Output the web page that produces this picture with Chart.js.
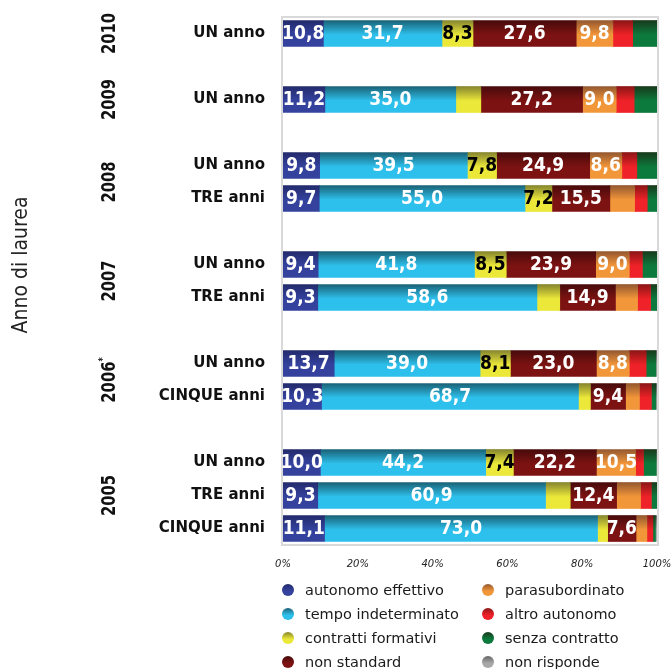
<!DOCTYPE html>
<html>
<head>
<meta charset="utf-8">
<script src="https://cdn.jsdelivr.net/npm/chart.js@4"></script>
<style>
  html, body { margin: 0; padding: 0; background: #ffffff; }
  #c { display: block; }
</style>
</head>
<body>
<canvas id="c" width="672" height="669"></canvas>
<script>
// ---- data ----
const categories = ["UN anno", "", "UN anno", "", "UN anno", "TRE anni", "", "UN anno", "TRE anni", "", "UN anno", "CINQUE anni", "", "UN anno", "TRE anni", "CINQUE anni"];
const years = ["2010", "2009", "2008", "2007", "2006", "2005"];
const yearMarks = ["", "", "", "", "*", ""];
const yearRows = [[0], [2], [4, 5], [7, 8], [10, 11], [13, 14, 15]];
const axisTitle = "Anno di laurea";
const xTickValues = [0, 20, 40, 60, 80, 100];

const seriesNames = ["autonomo effettivo", "tempo indeterminato", "contratti formativi", "non standard", "parasubordinato", "altro autonomo", "senza contratto", "non risponde"];

const autonomoEffettivo  = [10.8, null, 11.2, null, 9.8, 9.7, null, 9.4, 9.3, null, 13.7, 10.3, null, 10.0, 9.3, 11.1];
const tempoIndeterminato = [31.7, null, 35.0, null, 39.5, 55.0, null, 41.8, 58.6, null, 39.0, 68.7, null, 44.2, 60.9, 73.0];
const contrattiFormativi = [8.3, null, 6.7, null, 7.8, 7.2, null, 8.5, 6.1, null, 8.1, 3.2, null, 7.4, 6.6, 2.7];
const nonStandard        = [27.6, null, 27.2, null, 24.9, 15.5, null, 23.9, 14.9, null, 23.0, 9.4, null, 22.2, 12.4, 7.6];
const parasubordinato    = [9.8, null, 9.0, null, 8.6, 6.6, null, 9.0, 5.9, null, 8.8, 3.7, null, 10.5, 6.4, 2.9];
const altroAutonomo      = [5.3, null, 4.8, null, 4.0, 3.4, null, 3.5, 3.5, null, 4.5, 3.2, null, 2.1, 2.9, 1.6];
const senzaContratto     = [6.5, null, 6.1, null, 5.4, 2.6, null, 3.9, 1.7, null, 2.6, 1.2, null, 3.4, 1.5, 0.7];
const nonRisponde        = [0, null, 0, null, 0, 0, null, 0, 0, null, 0.3, 0.3, null, 0.2, 0, 0.3];

const seriesValues = [autonomoEffettivo, tempoIndeterminato, contrattiFormativi, nonStandard, parasubordinato, altroAutonomo, senzaContratto, nonRisponde];

// ---- styles ----
const darkColors  = ["#232a6c", "#1a6276", "#86862e", "#480b0b", "#94582f", "#8c1616", "#183a1c", "#666666"];
const lightColors = ["#34429e", "#2ec0ec", "#ebe83a", "#7c1212", "#f2963a", "#ee2228", "#0c7a3c", "#a8a8a8"];
const labelColors = ["#ffffff", "#ffffff", "#000000", "#ffffff", "#ffffff", "#ffffff", "#ffffff", "#ffffff"];
const BAR_H = 26;
const LABEL_MIN = 7;

function barGradient(i) {
  return function (c) {
    const chart = c.chart;
    const ys = chart.scales && chart.scales.y;
    if (!ys || c.dataIndex === undefined || !chart.chartArea) return lightColors[i];
    const yc = ys.getPixelForValue(c.dataIndex);
    if (!isFinite(yc)) return lightColors[i];
    const g = chart.ctx.createLinearGradient(0, yc - BAR_H / 2, 0, yc + BAR_H / 2);
    g.addColorStop(0, darkColors[i]);
    g.addColorStop(0.55, lightColors[i]);
    g.addColorStop(1, lightColors[i]);
    return g;
  };
}

const datasets = seriesNames.map((name, i) => ({
  label: name,
  data: seriesValues[i],
  backgroundColor: barGradient(i),
  borderWidth: 0,
  barThickness: BAR_H
}));

const fmt = v => v.toFixed(1).replace('.', ',');

const framePlugin = {
  id: 'frame',
  beforeDatasetsDraw(chart) {
    const a = chart.chartArea, ctx = chart.ctx;
    ctx.save();
    ctx.strokeStyle = '#d9d9d9';
    ctx.lineWidth = 2;
    ctx.strokeRect(a.left - 1, a.top, a.right - a.left + 2, a.bottom - a.top);
    ctx.restore();
  }
};

const labelsPlugin = {
  id: 'segLabels',
  afterDatasetsDraw(chart) {
    const ctx = chart.ctx;
    ctx.save();
    ctx.font = "bold 19px 'DejaVu Sans Condensed', 'DejaVu Sans'";
    ctx.textAlign = 'center';
    ctx.textBaseline = 'middle';
    chart.data.datasets.forEach((ds, i) => {
      const meta = chart.getDatasetMeta(i);
      meta.data.forEach((bar, j) => {
        const v = ds.data[j];
        if (v === null || v < LABEL_MIN) return;
        ctx.fillStyle = labelColors[i];
        ctx.fillText(fmt(v), (bar.x + bar.base) / 2, bar.y + 1);
      });
    });
    ctx.restore();
  }
};

const YEAR_FONT = "bold 20px 'DejaVu Sans Condensed', 'DejaVu Sans'";
const MARK_FONT = "bold 11px 'DejaVu Sans Condensed', 'DejaVu Sans'";
const YEAR_SQUEEZE = 0.82;

const sidePlugin = {
  id: 'side',
  afterDraw(chart) {
    const ctx = chart.ctx, ys = chart.scales.y;
    ctx.save();
    ctx.fillStyle = '#111111';
    // year labels
    years.forEach((yr, k) => {
      const rows = yearRows[k];
      const yc = rows.reduce((s, r) => s + ys.getPixelForValue(r), 0) / rows.length;
      ctx.save();
      ctx.translate(115, yc);
      ctx.rotate(-Math.PI / 2);
      ctx.scale(YEAR_SQUEEZE, 1);
      ctx.textBaseline = 'alphabetic';
      ctx.textAlign = 'left';
      ctx.font = YEAR_FONT;
      const w = ctx.measureText(yr).width;
      ctx.font = MARK_FONT;
      const wm = yearMarks[k] ? ctx.measureText(yearMarks[k]).width : 0;
      const x0 = -(w + wm) / 2;
      ctx.font = YEAR_FONT;
      ctx.fillText(yr, x0, 0);
      if (yearMarks[k]) {
        ctx.font = MARK_FONT;
        ctx.fillText(yearMarks[k], x0 + w, -9);
      }
      ctx.restore();
    });
    // axis title
    ctx.save();
    ctx.translate(27, 265);
    ctx.rotate(-Math.PI / 2);
    ctx.font = "21px 'DejaVu Sans Condensed', 'DejaVu Sans'";
    ctx.textAlign = 'center';
    ctx.textBaseline = 'alphabetic';
    ctx.fillStyle = '#222222';
    ctx.fillText(axisTitle, 0, 0);
    ctx.restore();

    // legend (two columns, column-major)
    const colX = [288, 488];
    const rowY = [590, 614, 638, 662];
    ctx.font = "14.5px 'DejaVu Sans'";
    ctx.textBaseline = 'middle';
    ctx.textAlign = 'left';
    seriesNames.forEach((name, i) => {
      const col = Math.floor(i / 4), row = i % 4;
      const cx = colX[col], cy = rowY[row];
      const g = ctx.createLinearGradient(0, cy - 6, 0, cy + 6);
      g.addColorStop(0, darkColors[i]);
      g.addColorStop(0.6, lightColors[i]);
      g.addColorStop(1, lightColors[i]);
      ctx.beginPath();
      ctx.arc(cx, cy, 6, 0, Math.PI * 2);
      ctx.fillStyle = g;
      ctx.fill();
      ctx.fillStyle = '#1a1a1a';
      ctx.fillText(name, cx + 17, cy + 1);
    });
    ctx.restore();
  }
};

new Chart(document.getElementById('c'), {
  type: 'bar',
  data: { labels: categories, datasets: datasets },
  plugins: [framePlugin, labelsPlugin, sidePlugin],
  options: {
    indexAxis: 'y',
    responsive: false,
    animation: false,
    devicePixelRatio: 1,
    layout: { padding: { top: 17, right: 15, left: 0, bottom: 0 } },
    plugins: { legend: { display: false }, tooltip: { enabled: false }, title: { display: false } },
    scales: {
      x: {
        stacked: true,
        min: 0,
        max: 100,
        grid: { display: false, drawTicks: false },
        border: { display: false },
        afterBuildTicks(scale) { scale.ticks = xTickValues.map(v => ({ value: v })); },
        ticks: {
          callback: v => v + '%',
          font: { family: "'DejaVu Sans'", style: 'italic', size: 10 },
          color: '#222222',
          padding: 13,
          maxRotation: 0,
          autoSkip: false
        },
        afterFit(scale) { scale.height = 669 - 545; scale.paddingLeft = 0; scale.paddingRight = 0; }
      },
      y: {
        stacked: true,
        grid: { display: false, drawTicks: false },
        border: { display: false },
        ticks: {
          font: { family: "'DejaVu Sans'", weight: 'bold', size: 15 },
          color: '#111111',
          padding: 18,
          autoSkip: false
        },
        afterFit(scale) { scale.width = 283; scale.paddingTop = 0; scale.paddingBottom = 0; }
      }
    }
  }
});
</script>
</body>
</html>
